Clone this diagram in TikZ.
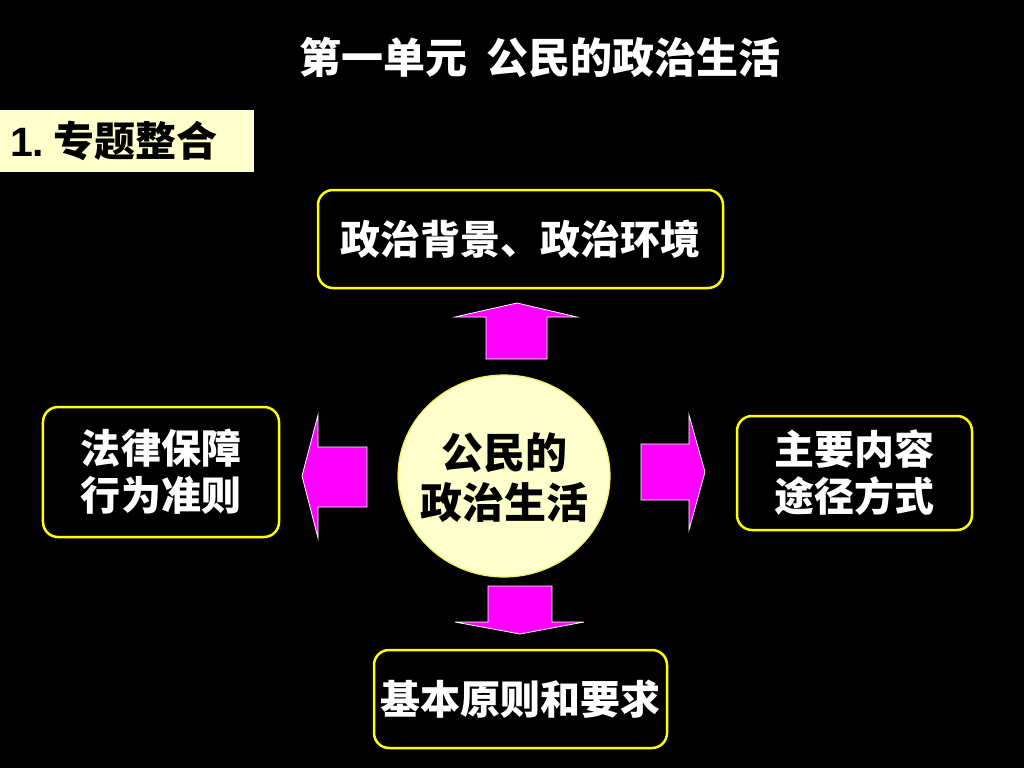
\documentclass[tikz,border=0pt]{standalone}
\usepackage{fontspec}
\setmainfont{Noto Sans CJK SC}
\newfontfamily\latinf{Liberation Sans}
\usetikzlibrary{shapes.geometric}
\definecolor{pale}{HTML}{FFFFCC}
\definecolor{magent}{HTML}{FF00FF}
\definecolor{ybord}{HTML}{FFFF00}
\definecolor{cbord}{HTML}{F0F060}
\begin{document}
\begin{tikzpicture}[x=1bp,y=-1bp,
  box/.style={draw=ybord, line width=2.5bp, rounded corners=15bp, fill=black,
    text=white, font=\bfseries\fontsize{40bp}{47bp}\selectfont, align=center, inner sep=0pt},
  blockarrow/.style={fill=magent, draw=white, line width=0.8bp, line join=miter}]
\fill[black] (0,0) rectangle (1024,768);
\useasboundingbox (0,0) rectangle (1024,768);

% title
\node[text=white, font=\bfseries\fontsize{42bp}{48bp}\selectfont] (title) at (540,57)
  {第一单元\hspace{0.45em}公民的政治生活};

% section label
\node[fill=pale, anchor=north west, minimum width=254bp, minimum height=62bp,
  inner sep=0pt, text width=250bp, align=left, text=black,
  font=\bfseries\fontsize{41bp}{46bp}\selectfont] (label) at (0,110)
  {\hspace*{8bp}{\latinf 1.}\hspace{9bp}专题整合};

% centre ellipse
\node[ellipse, minimum width=212bp, minimum height=202bp, fill=pale, draw=cbord,
  line width=1.2bp, inner sep=0pt] (centre) at (504,476) {};
\node[align=center, text=black, inner sep=0pt,
  font=\bfseries\fontsize{42bp}{50bp}\selectfont] (centretext) at (504,478)
  {公民的\\政治生活};

% boxes
\node[box, minimum width=405bp, minimum height=98bp] (top) at (520.5,239) {政治背景、政治环境};
\node[box, minimum width=236bp, minimum height=130bp] (left) at (161,472) {法律保障\\行为准则};
\node[box, minimum width=235bp, minimum height=114bp] (right) at (854.5,473) {主要内容\\途径方式};
\node[box, minimum width=293bp, minimum height=98bp] (bottom) at (520.5,699) {基本原则和要求};

% block arrows
\filldraw[blockarrow] (517,303) -- (577,317) -- (547,317) -- (547,359) -- (486,359) -- (486,317) -- (455,317) -- cycle;
\filldraw[blockarrow] (520,634) -- (584,622) -- (552,622) -- (552,586) -- (488,586) -- (488,622) -- (455,622) -- cycle;
\filldraw[blockarrow] (302,476) -- (318,415) -- (318,447) -- (367,447) -- (367,507) -- (318,507) -- (318,538) -- cycle;
\filldraw[blockarrow] (705,472) -- (689,415) -- (689,444) -- (641,444) -- (641,500) -- (689,500) -- (689,530) -- cycle;
\end{tikzpicture}
\end{document}
